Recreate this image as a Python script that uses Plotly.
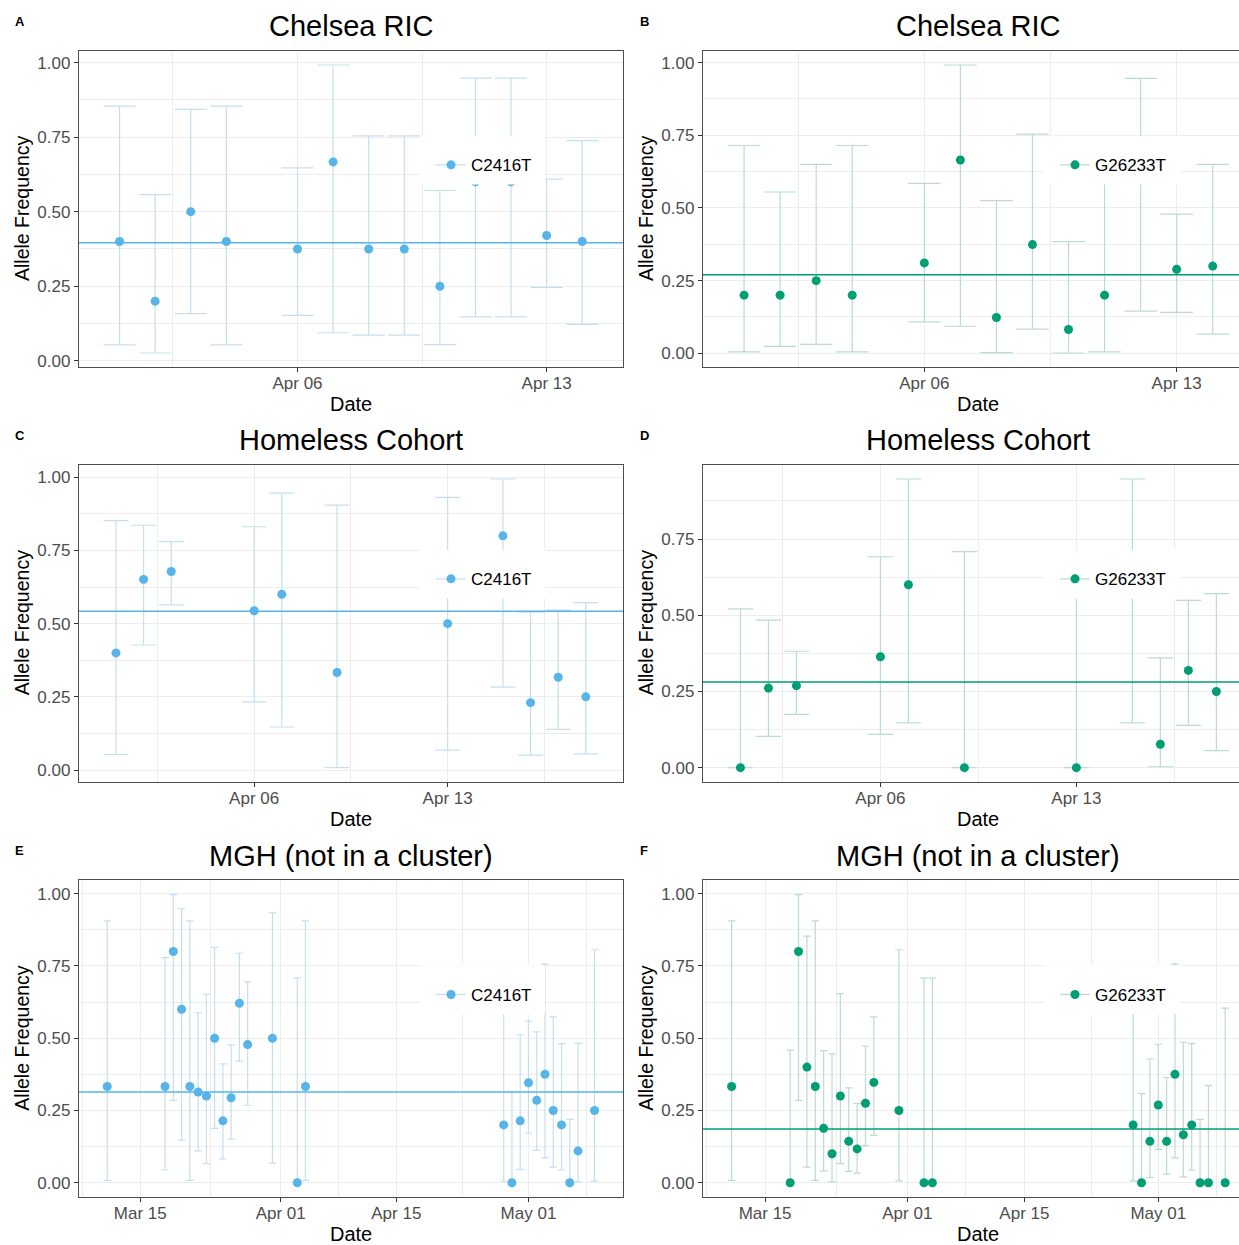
import pandas as pd
import plotly.graph_objects as go

W, H = 1239, 1245

# ---------------- data ----------------
# Panel A: Chelsea RIC, C2416T
a_dates = ["2020-04-01", "2020-04-02", "2020-04-03", "2020-04-04", "2020-04-06", "2020-04-07",
           "2020-04-08", "2020-04-09", "2020-04-10", "2020-04-11", "2020-04-12", "2020-04-13", "2020-04-14"]
a_freq = [0.40, 0.20, 0.50, 0.40, 0.375, 0.667, 0.375, 0.375, 0.25, 0.60, 0.60, 0.42, 0.40]
a_low = [0.053, 0.026, 0.158, 0.053, 0.152, 0.094, 0.086, 0.086, 0.054, 0.147, 0.147, 0.246, 0.122]
a_high = [0.854, 0.557, 0.843, 0.854, 0.647, 0.992, 0.754, 0.754, 0.571, 0.948, 0.948, 0.609, 0.738]
a_mean = 0.396

# Panel B: Chelsea RIC, G26233T
b_dates = a_dates
b_freq = [0.20, 0.20, 0.25, 0.20, 0.311, 0.665, 0.123, 0.374, 0.082, 0.20, 0.60, 0.289, 0.30]
b_low = [0.005, 0.024, 0.031, 0.005, 0.108, 0.093, 0.002, 0.083, 0.001, 0.005, 0.145, 0.141, 0.066]
b_high = [0.715, 0.555, 0.650, 0.715, 0.585, 0.992, 0.525, 0.754, 0.384, 0.716, 0.946, 0.479, 0.650]
b_mean = 0.27

# Panel C: Homeless Cohort, C2416T
c_dates = ["2020-04-01", "2020-04-02", "2020-04-03", "2020-04-06", "2020-04-07", "2020-04-09",
           "2020-04-13", "2020-04-15", "2020-04-16", "2020-04-17", "2020-04-18"]
c_freq = [0.40, 0.651, 0.678, 0.544, 0.60, 0.333, 0.50, 0.80, 0.23, 0.317, 0.25]
c_low = [0.053, 0.427, 0.564, 0.233, 0.147, 0.008, 0.068, 0.283, 0.051, 0.139, 0.055]
c_high = [0.852, 0.836, 0.780, 0.831, 0.946, 0.905, 0.931, 0.994, 0.539, 0.546, 0.572]
c_mean = 0.5425

# Panel D: Homeless Cohort, G26233T
d_dates = c_dates
d_freq = [0.0, 0.261, 0.269, 0.364, 0.60, 0.0, 0.0, 0.60, 0.077, 0.319, 0.25]
d_low = [0.0, 0.103, 0.175, 0.109, 0.147, 0.0, 0.0, 0.147, 0.003, 0.139, 0.056]
d_high = [0.521, 0.484, 0.382, 0.692, 0.947, 0.709, 0.602, 0.947, 0.360, 0.549, 0.571]
d_mean = 0.281

# Panel E: MGH (not in a cluster), C2416T
e_dates = ["2020-03-11", "2020-03-18", "2020-03-19", "2020-03-20", "2020-03-21", "2020-03-22",
           "2020-03-23", "2020-03-24", "2020-03-25", "2020-03-26", "2020-03-27", "2020-03-28",
           "2020-03-31", "2020-04-03", "2020-04-04", "2020-04-28", "2020-04-29", "2020-04-30",
           "2020-05-01", "2020-05-02", "2020-05-03", "2020-05-04", "2020-05-05", "2020-05-06",
           "2020-05-07", "2020-05-09"]
e_freq = [0.333, 0.333, 0.80, 0.60, 0.333, 0.314, 0.30, 0.50, 0.214, 0.294, 0.621, 0.478,
          0.50, 0.0, 0.333, 0.20, 0.0, 0.214, 0.346, 0.285, 0.375, 0.25, 0.20, 0.0, 0.11, 0.25]
e_low = [0.008, 0.044, 0.285, 0.147, 0.008, 0.110, 0.066, 0.188, 0.082, 0.151, 0.421, 0.268,
         0.068, 0.0, 0.008, 0.005, 0.0, 0.046, 0.172, 0.112, 0.086, 0.054, 0.044, 0.0, 0.003, 0.006]
e_high = [0.906, 0.779, 0.997, 0.948, 0.906, 0.588, 0.653, 0.814, 0.411, 0.477, 0.794, 0.695,
          0.934, 0.709, 0.906, 0.716, 0.313, 0.512, 0.559, 0.522, 0.756, 0.574, 0.481, 0.219, 0.482, 0.806]
e_mean = 0.314

# Panel F: MGH (not in a cluster), G26233T
f_dates = e_dates
f_freq = [0.333, 0.0, 0.80, 0.40, 0.333, 0.188, 0.10, 0.30, 0.143, 0.117, 0.275, 0.347,
          0.25, 0.0, 0.0, 0.20, 0.0, 0.143, 0.269, 0.143, 0.375, 0.166, 0.20, 0.0, 0.0, 0.0]
f_low = [0.008, 0.0, 0.285, 0.054, 0.008, 0.041, 0.003, 0.066, 0.039, 0.033, 0.128, 0.164,
         0.006, 0.0, 0.0, 0.006, 0.0, 0.018, 0.115, 0.030, 0.086, 0.020, 0.044, 0.0, 0.0, 0.0]
f_high = [0.906, 0.459, 0.997, 0.853, 0.906, 0.457, 0.446, 0.654, 0.328, 0.274, 0.473, 0.574,
          0.806, 0.708, 0.708, 0.716, 0.308, 0.428, 0.479, 0.364, 0.756, 0.486, 0.481, 0.219, 0.336, 0.604]
f_mean = 0.186

titles = ["Chelsea RIC", "Chelsea RIC", "Homeless Cohort", "Homeless Cohort",
          "MGH (not in a cluster)", "MGH (not in a cluster)"]
panel_labels = ["A", "B", "C", "D", "E", "F"]
variants = ["C2416T", "G26233T"]

# ---------------- style ----------------
BLUE = "#56B4E9"
GREEN = "#009E73"
BLUE_LIGHT = "#C6DFEF"
GREEN_LIGHT = "#BBDBD1"
GRID = "#EBEDEF"
FONT = "Liberation Sans, Arial, sans-serif"

# panel pixel geometry (left, right_full, top, bottom)
LEFT_COL = (78.8, 623.0)
RIGHT_COL = (702.8, 1254.0)
ROWS = [(50.7, 368.3), (465.7, 784.0), (882.3, 1200.0)]

panels = [
    (a_dates, a_freq, a_low, a_high, a_mean),
    (b_dates, b_freq, b_low, b_high, b_mean),
    (c_dates, c_freq, c_low, c_high, c_mean),
    (d_dates, d_freq, d_low, d_high, d_mean),
    (e_dates, e_freq, e_low, e_high, e_mean),
    (f_dates, f_freq, f_low, f_high, f_mean),
]

fig = go.Figure()
DAY = pd.Timedelta(days=1)
shapes = []
annotations = []
layout_axes = {}

for i, (dates, freq, low, high, mean) in enumerate(panels):
    col = i % 2
    row = i // 2
    n = i + 1
    xa = "x" if n == 1 else f"x{n}"
    ya = "y" if n == 1 else f"y{n}"
    xkey = "xaxis" if n == 1 else f"xaxis{n}"
    ykey = "yaxis" if n == 1 else f"yaxis{n}"
    legkey = "legend" if n == 1 else f"legend{n}"

    color = BLUE if col == 0 else GREEN
    light = BLUE_LIGHT if col == 0 else GREEN_LIGHT
    dt = pd.to_datetime(pd.Series(dates))

    # ggplot-like x range: errorbar width 0.9 day, expand 5%
    xmin = dt.min() - 0.45 * DAY
    xmax = dt.max() + 0.45 * DAY
    span = xmax - xmin
    xlo = xmin - 0.05 * span
    xhi = xmax + 0.05 * span
    full_span = xhi - xlo

    pl, pr = LEFT_COL if col == 0 else RIGHT_COL
    pt, pb = ROWS[row]
    vis_right = min(pr, W)
    frac = (vis_right - pl) / (pr - pl)
    xhi_vis = xlo + frac * full_span
    px_per_day = (pr - pl) / (full_span / DAY)

    ylo_d = min(min(low), min(freq), mean)
    yhi_d = max(max(high), max(freq), mean)
    yspan = yhi_d - ylo_d
    yr = [ylo_d - 0.05 * yspan, yhi_d + 0.05 * yspan]

    up = [h - f for h, f in zip(high, freq)]
    dn = [f - l for f, l in zip(freq, low)]

    # error bars
    fig.add_trace(go.Scatter(
        x=dt, y=freq, mode="markers", xaxis=xa, yaxis=ya, showlegend=False,
        marker=dict(size=9, color="rgba(0,0,0,0)"),
        error_y=dict(type="data", symmetric=False, array=up, arrayminus=dn,
                     color=light, thickness=1.2, width=0.45 * px_per_day),
        hoverinfo="skip"))
    # mean line
    fig.add_trace(go.Scatter(
        x=[xlo, xhi], y=[mean, mean], mode="lines", xaxis=xa, yaxis=ya,
        showlegend=False, line=dict(color=color, width=1.5), hoverinfo="skip"))
    # points
    fig.add_trace(go.Scatter(
        x=dt, y=freq, mode="markers", xaxis=xa, yaxis=ya, showlegend=False,
        marker=dict(size=9, color=color)))
    # legend entry
    fig.add_trace(go.Scatter(
        x=[None], y=[None], mode="lines+markers", xaxis=xa, yaxis=ya,
        name=variants[col], legend=legkey, showlegend=True,
        marker=dict(size=9, color=color), line=dict(color=light, width=1.3)))

    # x ticks
    if row < 2:
        majors = pd.date_range("2020-03-30", "2020-04-27", freq="7D")
    else:
        majors = pd.to_datetime(["2020-03-01", "2020-03-15", "2020-04-01", "2020-04-15",
                                 "2020-05-01", "2020-05-15"])
    minors = [majors[k] + (majors[k + 1] - majors[k]) / 2 for k in range(len(majors) - 1)]
    majors_in = [m for m in majors if xlo <= m <= xhi_vis]
    minors_in = [m for m in minors if xlo <= m <= xhi_vis]

    xdom = [pl / W, vis_right / W]
    ydom = [1 - pb / H, 1 - pt / H]

    layout_axes[xkey] = dict(
        domain=xdom, anchor=ya, type="date", range=[xlo, xhi_vis],
        tickmode="array", tickvals=majors_in, ticktext=[m.strftime("%b %d") for m in majors_in],
        showgrid=True, gridcolor=GRID, gridwidth=1.3,
        minor=dict(tickmode="array", tickvals=minors_in, showgrid=True, gridcolor=GRID,
                   gridwidth=0.7, ticks=""),
        ticks="outside", ticklen=4, tickcolor="#333333", tickwidth=1,
        ticklabelstandoff=-4,
        tickfont=dict(size=17, color="#4D4D4D", family=FONT),
        showline=True, linecolor="#4d4d4d", linewidth=1, mirror=True,
        zeroline=False, fixedrange=True)

    ymaj = [v / 4 for v in range(0, 5) if yr[0] <= v / 4 <= yr[1]]
    ymin_ = [v / 8 for v in range(-1, 9, 2) if yr[0] <= v / 8 <= yr[1]]
    layout_axes[ykey] = dict(
        domain=ydom, anchor=xa, range=yr,
        tickmode="array", tickvals=ymaj, ticktext=[f"{v:.2f}" for v in ymaj],
        showgrid=True, gridcolor=GRID, gridwidth=1.3,
        minor=dict(tickmode="array", tickvals=ymin_, showgrid=True, gridcolor=GRID,
                   gridwidth=0.7, ticks=""),
        ticks="outside", ticklen=4, tickcolor="#333333", tickwidth=1,
        tickfont=dict(size=17, color="#4D4D4D", family=FONT),
        showline=True, linecolor="#4d4d4d", linewidth=1, mirror=(col == 0),
        zeroline=False, fixedrange=True)

    # legend background box (ggplot legend drawn over the panel)
    if col == 0:
        bx0, bx1 = 420, 545
    else:
        bx0, bx1 = 1044, 1180
    by0, by1 = pt + 85.3, pt + 134.3
    shapes.append(dict(type="rect", xref="paper", yref="paper", layer="above",
                       x0=bx0 / W, x1=bx1 / W, y0=1 - by1 / H, y1=1 - by0 / H,
                       fillcolor="white", line=dict(width=0)))
    marker_x = 451 if col == 0 else 1075
    marker_y = pt + 115.0
    fig.update_layout(**{legkey: dict(
        x=(marker_x - 20) / W, xanchor="left", y=1 - marker_y / H, yanchor="middle",
        bgcolor="rgba(0,0,0,0)", borderwidth=0,
        font=dict(size=17, color="black", family=FONT))})

    cx = (pl + pr) / 2
    annotations.append(dict(text=titles[i], x=cx / W, y=1 - (pt - 24.7) / H, xref="paper", yref="paper",
                            xanchor="center", yanchor="middle", showarrow=False,
                            font=dict(size=29, color="black", family=FONT)))
    annotations.append(dict(text="Date", x=cx / W, y=1 - (pb + 36.5) / H, xref="paper", yref="paper",
                            xanchor="center", yanchor="middle", showarrow=False,
                            font=dict(size=20, color="black", family=FONT)))
    annotations.append(dict(text="Allele Frequency", x=(pl - 56.8) / W, y=1 - ((pt + pb) / 2) / H,
                            xref="paper", yref="paper", xanchor="center", yanchor="middle",
                            textangle=-90, showarrow=False,
                            font=dict(size=19.5, color="black", family=FONT)))
    annotations.append(dict(text=f"<b>{panel_labels[i]}</b>", x=(pl - 58.8) / W, y=1 - (pt - 29.5) / H,
                            xref="paper", yref="paper", xanchor="center", yanchor="middle",
                            showarrow=False, font=dict(size=13, color="black", family=FONT)))

fig.update_layout(**layout_axes)
fig.update_layout(
    width=W, height=H, autosize=False,
    margin=dict(l=0, r=0, t=0, b=0),
    paper_bgcolor="white", plot_bgcolor="white",
    shapes=shapes, annotations=annotations,
    font=dict(family=FONT),
)

fig.write_html("out.html", config={"displayModeBar": False},
               post_script="document.body.style.margin='0';document.body.style.overflow='hidden';")
